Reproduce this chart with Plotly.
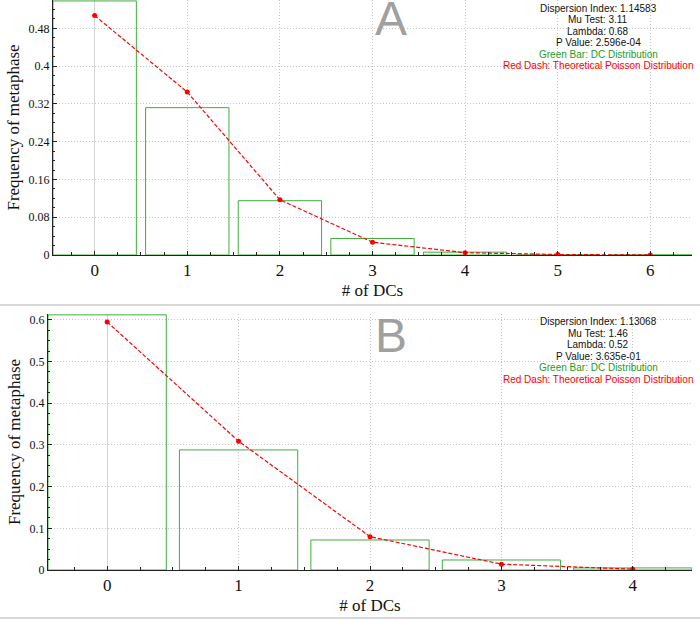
import plotly.graph_objects as go

# panel A
dcs_a = [0, 1, 2, 3, 4, 5, 6]
obs_a = [0.538, 0.312, 0.115, 0.035, 0.006, 0.0, 0.0]
poisson_a = [0.507, 0.345, 0.117, 0.027, 0.005, 0.001, 0.0001]
stats_a = ["Dispersion Index: 1.14583", "Mu Test: 3.11", "Lambda: 0.68", "P Value: 2.596e-04"]

# panel B
dcs_b = [0, 1, 2, 3, 4]
obs_b = [0.612, 0.288, 0.072, 0.024, 0.005]
poisson_b = [0.595, 0.309, 0.080, 0.014, 0.002]
stats_b = ["Dispersion Index: 1.13068", "Mu Test: 1.46", "Lambda: 0.52", "P Value: 3.635e-01"]

legend_lines = [("Green Bar: DC Distribution", "#1f9a1f"),
                ("Red Dash: Theoretical Poisson Distribution", "#ff0000")]

W, H = 700, 620
L, R, T, B = 48, 8, 0, 50
pw, ph = W - L - R, H - T - B

serif = "Liberation Serif"
small = "Liberation Sans"
green = "#3fae3f"
grid = dict(showgrid=True, gridcolor="#c4c4c4", griddash="1px,2px", gridwidth=1)

fig = go.Figure()

for xs, ys, ps, ax in [(dcs_a, obs_a, poisson_a, ""), (dcs_b, obs_b, poisson_b, "2")]:
    fig.add_trace(go.Bar(x=xs, y=ys, width=0.9, marker=dict(color="rgba(0,0,0,0)",
                         line=dict(color=green, width=1)), xaxis="x" + ax, yaxis="y" + ax,
                         showlegend=False))
    fig.add_trace(go.Scatter(x=xs, y=ps, mode="lines+markers", xaxis="x" + ax, yaxis="y" + ax,
                             line=dict(color="red", width=1.2, dash="4px,2px"),
                             marker=dict(color="red", size=5), showlegend=False))

def xax(domain, rng, anchor):
    return dict(domain=domain, range=rng, anchor=anchor, tickmode="linear", dtick=1, tick0=0,
                showline=True, linecolor="#222", linewidth=1, ticks="inside", ticklen=4,
                tickcolor="#222", minor=dict(ticks="inside", dtick=0.25, ticklen=3, tickcolor="#222"),
                zeroline=True, zerolinecolor="#d4d4d4", zerolinewidth=1,
                tickfont=dict(family=serif, size=17, color="#111"),
                title=dict(text="# of DCs", font=dict(family=serif, size=17, color="#111"), standoff=4),
                automargin=False, fixedrange=True, **grid)

def yax(domain, rng, dt, mdt, anchor):
    return dict(domain=domain, range=rng, anchor=anchor, tickmode="linear", dtick=dt, tick0=0,
                showline=True, linecolor="#222", linewidth=1, ticks="inside", ticklen=4,
                tickcolor="#222", minor=dict(ticks="inside", dtick=mdt, ticklen=2, tickcolor="#222"),
                zeroline=False,
                tickfont=dict(family=serif, size=12, color="#111"),
                title=dict(text="Frequency of metaphase", font=dict(family=serif, size=17, color="#111"),
                           standoff=4),
                automargin=False, fixedrange=True, **grid)

dom_a = [(ph - 255) / ph, 1]
dom_b = [0, (ph - 314) / ph]

fig.update_layout(
    width=W, height=H, margin=dict(l=L, r=R, t=T, b=B),
    paper_bgcolor="white", plot_bgcolor="white", barmode="overlay",
    xaxis=xax([5 / pw, 1], [-0.45, 6.45], "y"),
    yaxis=yax(dom_a, [0, 0.54], 0.08, 0.02, "x"),
    xaxis2=xax([0, 1], [-0.45, 4.45], "y2"),
    yaxis2=yax(dom_b, [0, 0.614], 0.1, 0.025, "x2"),
)

ann = []
cx = (598 - L) / pw
for stats, top, letter, shift in [(stats_a, dom_a[1], "A", -18), (stats_b, dom_b[1], "B", -22)]:
    lines = [(s, "#111") for s in stats] + legend_lines
    for i, (txt, col) in enumerate(lines):
        ann.append(dict(text=txt, xref="paper", yref="paper", x=cx, y=top, xanchor="center",
                        yanchor="middle", yshift=-(8 + 11.5 * i), showarrow=False,
                        font=dict(family=small, size=10, color=col)))
    ann.append(dict(text=letter, xref="paper", yref="paper", x=(391 - L) / pw, y=top,
                    xanchor="center", yanchor="middle", yshift=shift, showarrow=False,
                    font=dict(family="Liberation Sans", size=48, color="#a0a0a0")))
fig.update_layout(annotations=ann)

# panel separators
for py in [305, 618]:
    yy = (ph - py) / ph
    fig.add_shape(type="line", xref="paper", yref="paper", x0=-L / pw, x1=1 + R / pw, y0=yy, y1=yy,
                  line=dict(color="#d8d8d8", width=2))

fig.write_html("out.html", config={"displayModeBar": False},
               post_script="document.body.style.margin='0';")
